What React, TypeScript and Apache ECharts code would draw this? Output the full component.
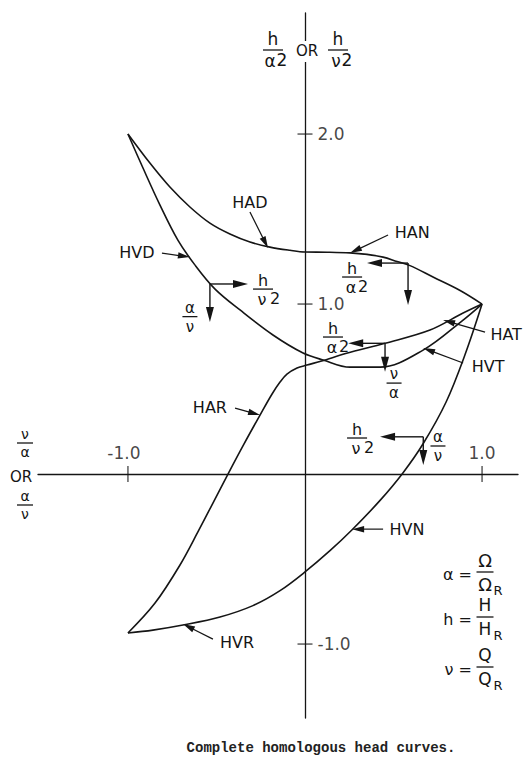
import React, { useEffect, useRef } from "react";
import * as echarts from "echarts";

const FONT = '"DejaVu Sans", sans-serif';
const INK = "#151515";

// axis extents (data units)
const xRange = [-1.508, 1.203];
const yRange = [-1.435, 2.712];

const xTickValues = [-1, 1];
const yTickValues = [2, 1, -1];

// curves (x, y)
const HAD = [[-1, 2], [-0.876, 1.829], [-0.763, 1.688], [-0.65, 1.571], [-0.537, 1.476], [-0.424, 1.412], [-0.311, 1.365], [-0.198, 1.335], [-0.085, 1.316], [0, 1.306]];
const HAN = [[0, 1.306], [0.127, 1.305], [0.254, 1.301], [0.35, 1.292], [0.441, 1.276], [0.52, 1.25], [0.593, 1.226], [0.723, 1.159], [0.876, 1.08], [1, 1]];
const HAT = [[1, 1], [0.893, 0.947], [0.706, 0.847], [0.452, 0.769], [0.235, 0.71], [0.094, 0.665], [0.011, 0.641]];
const HAR = [[0.011, 0.641], [-0.045, 0.624], [-0.102, 0.588], [-0.141, 0.541], [-0.186, 0.471], [-0.254, 0.347], [-0.345, 0.176], [-0.435, 0], [-0.52, -0.171], [-0.599, -0.329], [-0.706, -0.535], [-0.847, -0.759], [-1, -0.935]];
const HVR = [[-1, -0.935], [-0.859, -0.918], [-0.689, -0.888], [-0.48, -0.841], [-0.294, -0.774], [-0.141, -0.686], [0, -0.576]];
const HVN = [[0, -0.576], [0.141, -0.451], [0.266, -0.328], [0.424, -0.155], [0.554, 0.008], [0.667, 0.178], [0.797, 0.424], [0.904, 0.703], [1, 1]];
const HVT = [[-0.011, 0.712], [0.102, 0.671], [0.254, 0.629], [0.424, 0.629], [0.667, 0.729], [0.893, 0.906], [1, 1]];
const HVD = [[-1, 2], [-0.915, 1.8], [-0.819, 1.582], [-0.718, 1.376], [-0.621, 1.229], [-0.508, 1.088], [-0.367, 0.965], [-0.181, 0.818], [-0.011, 0.712]];

const curveLabels = [
  { text: "HAD", x: -0.311, y: 1.6 },
  { text: "HVD", x: -0.949, y: 1.306 },
  { text: "HAN", x: 0.605, y: 1.418 },
  { text: "HAT", x: 1.136, y: 0.818 },
  { text: "HVT", x: 1.034, y: 0.635 },
  { text: "HAR", x: -0.537, y: 0.394 },
  { text: "HVN", x: 0.576, y: -0.324 },
  { text: "HVR", x: -0.384, y: -0.988 },
];

// pointer arrows from label to curve: [x1, y1, x2, y2]
const pointerArrows = [
  [-0.311, 1.541, -0.209, 1.329],
  [-0.808, 1.3, -0.65, 1.276],
  [0.469, 1.406, 0.254, 1.3],
  [1.017, 0.835, 0.78, 0.906],
  [0.893, 0.653, 0.667, 0.741],
  [-0.395, 0.388, -0.254, 0.347],
  [0.441, -0.324, 0.266, -0.324],
  [-0.52, -0.971, -0.689, -0.882],
];

// direction arrows: [x1, y1, x2, y2]
const flowArrows = [
  [-0.537, 1.118, -0.322, 1.118],
  [-0.537, 1.118, -0.537, 0.894],
  [0.582, 1.241, 0.35, 1.241],
  [0.582, 1.241, 0.582, 0.994],
  [0.452, 0.769, 0.244, 0.769],
  [0.452, 0.769, 0.452, 0.602],
  [0.668, 0.219, 0.424, 0.219],
  [0.668, 0.219, 0.668, 0.053],
];

const flowFractions = [
  { num: "h", den: "ν", sup: "2", x: -0.237, y: 1.088 },
  { num: "α", den: "ν", sup: "", x: -0.65, y: 0.926 },
  { num: "h", den: "α", sup: "2", x: 0.266, y: 1.159 },
  { num: "h", den: "α", sup: "2", x: 0.158, y: 0.806 },
  { num: "ν", den: "α", sup: "", x: 0.503, y: 0.535 },
  { num: "h", den: "ν", sup: "2", x: 0.294, y: 0.212 },
  { num: "α", den: "ν", sup: "", x: 0.751, y: 0.165 },
];

const legendDefs = [
  { lhs: "α =", num: "Ω", den: "Ω", sub: "R" },
  { lhs: "h =", num: "H", den: "H", sub: "R" },
  { lhs: "ν =", num: "Q", den: "Q", sub: "R" },
];

const caption = "Complete homologous head curves.";

function txt(x: number, y: number, text: string, size: number, z = 10, extra: any = {}) {
  return {
    type: "text",
    x,
    y,
    z,
    style: {
      text,
      font: `${size}px ${FONT}`,
      fill: INK,
      align: "center",
      verticalAlign: "middle",
      textAlign: "center",
      textVerticalAlign: "middle",
      ...extra,
    },
  };
}

type FracOpt = {
  size?: number;
  up?: number;
  down?: number;
  bar?: number;
  denDx?: number;
  sup?: string;
  supDx?: number;
  sub?: string;
  subDx?: number;
  subDy?: number;
  subSize?: number;
  z?: number;
};

function fraction(cx: number, cy: number, num: string, den: string, o: FracOpt = {}) {
  const size = o.size ?? 16;
  const z = o.z ?? 10;
  const up = o.up ?? 8;
  const down = o.down ?? 8;
  const bar = o.bar ?? 20;
  const els: any[] = [
    txt(cx, cy - up, num, size, z),
    { type: "line", z, shape: { x1: cx - bar / 2, y1: cy, x2: cx + bar / 2, y2: cy }, style: { stroke: INK, lineWidth: 1.3 } },
    txt(cx + (o.denDx ?? 0), cy + down, den, size, z),
  ];
  if (o.sup) els.push(txt(cx + (o.supDx ?? 11), cy + down - 1, o.sup, size, z));
  if (o.sub) els.push(txt(cx + (o.subDx ?? 12), cy + down + (o.subDy ?? 6), o.sub, o.subSize ?? 12, z));
  return els;
}

function arrowEls(a: number[], b: number[], headLen: number, headW: number, lw: number) {
  const dx = b[0] - a[0];
  const dy = b[1] - a[1];
  const L = Math.hypot(dx, dy) || 1;
  const ux = dx / L;
  const uy = dy / L;
  const nx = -uy;
  const ny = ux;
  const bx = b[0] - ux * headLen;
  const by = b[1] - uy * headLen;
  return [
    { type: "line", shape: { x1: a[0], y1: a[1], x2: bx + ux, y2: by + uy }, style: { stroke: INK, lineWidth: lw } },
    {
      type: "polygon",
      shape: { points: [[b[0], b[1]], [bx + (nx * headW) / 2, by + (ny * headW) / 2], [bx - (nx * headW) / 2, by - (ny * headW) / 2]] },
      style: { fill: INK },
    },
  ];
}

function buildOption() {
  const curves = [
    { name: "HAD / HAN", data: [...HAD, ...HAN.slice(1)] },
    { name: "HVD / HVT", data: [...HVD, ...HVT.slice(1)] },
    { name: "HAT / HAR", data: [...HAT, ...HAR.slice(1)] },
    { name: "HVR / HVN", data: [...HVR, ...HVN.slice(1)] },
  ];

  const graphicEls: any[] = [];
  // gap in the y axis for its title
  graphicEls.push({ type: "rect", z: 50, shape: { x: 299, y: 41, width: 16, height: 21 }, style: { fill: "#fff" } });
  // y axis title: h/α² OR h/ν²
  graphicEls.push(...fraction(273, 50, "h", "α", { size: 17, up: 11, down: 11, bar: 20, denDx: -3, sup: "2", supDx: 9, z: 60 }));
  graphicEls.push(txt(307, 51, "OR", 15, 60));
  graphicEls.push(...fraction(338, 50, "h", "ν", { size: 17, up: 11, down: 11, bar: 20, denDx: -2, sup: "2", supDx: 9, z: 60 }));
  // x axis title: ν/α OR α/ν
  graphicEls.push(...fraction(25, 443, "ν", "α", { size: 14, up: 9, down: 9, bar: 16, z: 60 }));
  graphicEls.push(txt(21, 477, "OR", 15, 60));
  graphicEls.push(...fraction(25, 505, "α", "ν", { size: 14, up: 9, down: 9, bar: 16, z: 60 }));
  // legend equations
  const rowsY = [572, 617, 667];
  legendDefs.forEach((d, i) => {
    const cy = rowsY[i];
    graphicEls.push(txt(472, cy + 2, d.lhs, 16, 60, { align: "right", textAlign: "right" }));
    const big = d.num === "Ω" ? 18 : 17;
    graphicEls.push(...fraction(485, cy, d.num, d.den, { size: big, up: 12, down: 12, bar: 17, sub: d.sub, subDx: 13, subDy: 6, subSize: 13, z: 60 }));
  });
  // caption
  graphicEls.push(txt(321, 748, caption, 14, 60, { font: `bold 14px "Liberation Mono", monospace`, fill: "#222" }));

  return {
    animation: false,
    backgroundColor: "#fff",
    grid: { left: 38, top: 13, width: 480, height: 705, containLabel: false, outerBoundsMode: "none" },
    xAxis: {
      type: "value",
      min: xRange[0],
      max: xRange[1],
      axisLine: { onZero: true, lineStyle: { color: INK, width: 1.3 } },
      axisTick: { show: false },
      axisLabel: { show: false },
      splitLine: { show: false },
    },
    yAxis: {
      type: "value",
      min: yRange[0],
      max: yRange[1],
      axisLine: { onZero: true, lineStyle: { color: INK, width: 1.3 } },
      axisTick: { show: false },
      axisLabel: { show: false },
      splitLine: { show: false },
    },
    series: [
      ...curves.map((c) => ({
        type: "line",
        name: c.name,
        data: c.data,
        smooth: 0.35,
        symbol: "none",
        silent: true,
        clip: false,
        lineStyle: { color: INK, width: 1.6 },
        z: 3,
      })),
      {
        type: "scatter",
        name: "xTicks",
        data: xTickValues.map((v) => ({ value: [v, 0], label: { offset: [v < 0 ? -4 : 0, 0] } })),
        symbol: "rect",
        symbolSize: [1.3, 16],
        itemStyle: { color: INK },
        silent: true,
        label: {
          show: true,
          position: "top",
          distance: 5,
          formatter: (p: any) => p.value[0].toFixed(1),
          fontFamily: FONT,
          fontSize: 17,
          color: INK,
        },
        z: 4,
      },
      {
        type: "scatter",
        name: "yTicks",
        data: yTickValues.map((v) => [0, v]),
        symbol: "rect",
        symbolSize: [15, 1.3],
        itemStyle: { color: INK },
        silent: true,
        label: {
          show: true,
          position: "right",
          distance: 5,
          formatter: (p: any) => p.value[1].toFixed(1),
          fontFamily: FONT,
          fontSize: 17,
          color: INK,
        },
        z: 4,
      },
      {
        type: "custom",
        name: "curveLabels",
        coordinateSystem: "cartesian2d",
        silent: true,
        clip: false,
        data: curveLabels.map((l) => [l.x, l.y]),
        encode: { x: 0, y: 1 },
        renderItem: (params: any, api: any) => {
          const l = curveLabels[params.dataIndex];
          const p = api.coord([l.x, l.y]);
          return txt(p[0], p[1], l.text, 16);
        },
        z: 5,
      },
      {
        type: "custom",
        name: "pointers",
        coordinateSystem: "cartesian2d",
        silent: true,
        clip: false,
        data: pointerArrows,
        encode: { x: [0, 2], y: [1, 3] },
        renderItem: (params: any, api: any) => {
          const d = pointerArrows[params.dataIndex];
          const a = api.coord([d[0], d[1]]);
          const b = api.coord([d[2], d[3]]);
          return { type: "group", children: arrowEls(a, b, 12, 6.5, 1.2) };
        },
        z: 5,
      },
      {
        type: "custom",
        name: "flowArrows",
        coordinateSystem: "cartesian2d",
        silent: true,
        clip: false,
        data: flowArrows,
        encode: { x: [0, 2], y: [1, 3] },
        renderItem: (params: any, api: any) => {
          const d = flowArrows[params.dataIndex];
          const a = api.coord([d[0], d[1]]);
          const b = api.coord([d[2], d[3]]);
          return { type: "group", children: arrowEls(a, b, 15, 8, 1.4) };
        },
        z: 5,
      },
      {
        type: "custom",
        name: "flowFractions",
        coordinateSystem: "cartesian2d",
        silent: true,
        clip: false,
        data: flowFractions.map((f) => [f.x, f.y]),
        encode: { x: 0, y: 1 },
        renderItem: (params: any, api: any) => {
          const f = flowFractions[params.dataIndex];
          const p = api.coord([f.x, f.y]);
          const hasSup = !!f.sup;
          return {
            type: "group",
            children: fraction(p[0], p[1], f.num, f.den, {
              size: hasSup ? 16 : 15,
              up: 9,
              down: 10,
              bar: hasSup ? 20 : 15,
              denDx: hasSup ? -1 : 0,
              sup: f.sup,
              supDx: f.den === "ν" ? 12 : 11,
            }),
          };
        },
        z: 5,
      },
    ],
    graphic: { elements: graphicEls },
  };
}

export default function App() {
  const ref = useRef<HTMLDivElement>(null);
  useEffect(() => {
    const el = ref.current;
    if (!el) return;
    const chart = echarts.init(el, null, { renderer: "svg" });
    chart.setOption(buildOption() as any);
    return () => chart.dispose();
  }, []);
  return (
    <div
      ref={ref}
      style={{ position: "fixed", left: 0, top: 0, width: 523, height: 758, background: "#fff" }}
    />
  );
}
